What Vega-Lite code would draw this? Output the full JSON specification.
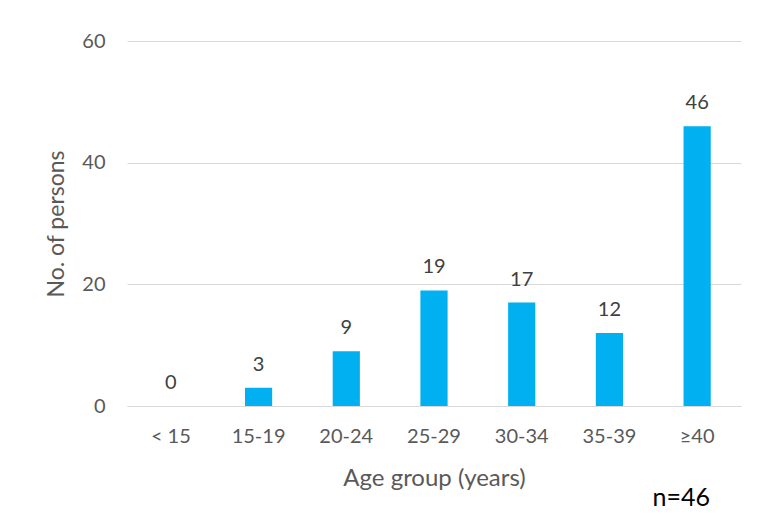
{
  "$schema": "https://vega.github.io/schema/vega-lite/v6.json",
  "width": 614,
  "height": 365,
  "autosize": {"type": "none"},
  "padding": {"left": 127, "top": 41, "right": 19, "bottom": 113},
  "background": "white",
  "data": {"values": [
    {"age": "< 15", "n": 0},
    {"age": "15-19", "n": 3},
    {"age": "20-24", "n": 9},
    {"age": "25-29", "n": 19},
    {"age": "30-34", "n": 17},
    {"age": "35-39", "n": 12},
    {"age": "≥40", "n": 46}
  ]},
  "title": {"text": "n=46", "orient": "bottom", "anchor": "end", "offset": -4, "dx": -31, "fontSize": 25, "font": "Lato", "fontWeight": "normal", "color": "#000000"},
  "config": {
    "view": {"stroke": null},
    "font": "Lato"
  },
  "encoding": {
    "x": {"field": "age", "type": "nominal", "sort": null,
      "scale": {"paddingInner": 0.69, "paddingOuter": 0.345},
      "axis": {"title": "Age group (years)", "labelAngle": 0, "labelFontSize": 20, "labelColor": "#595959", "titleFontSize": 24, "titleColor": "#595959", "titleFontWeight": "normal", "ticks": false, "domainColor": "#D9D9D9", "labelPadding": 20, "titlePadding": 20}},
    "y": {"field": "n", "type": "quantitative",
      "scale": {"domain": [0, 60]},
      "axis": {"title": "No. of persons", "values": [0, 20, 40, 60], "labelFontSize": 20, "labelColor": "#595959", "titleFontSize": 23, "titleColor": "#595959", "titleFontWeight": "normal", "ticks": false, "domain": false, "gridColor": "#D9D9D9", "labelPadding": 22, "titlePadding": 13}}
  },
  "layer": [
    {"mark": {"type": "bar", "color": "#00B0F0"}},
    {"mark": {"type": "text", "dy": -23, "fontSize": 20, "color": "#404040"},
     "encoding": {"text": {"field": "n", "type": "quantitative"}}}
  ]
}
